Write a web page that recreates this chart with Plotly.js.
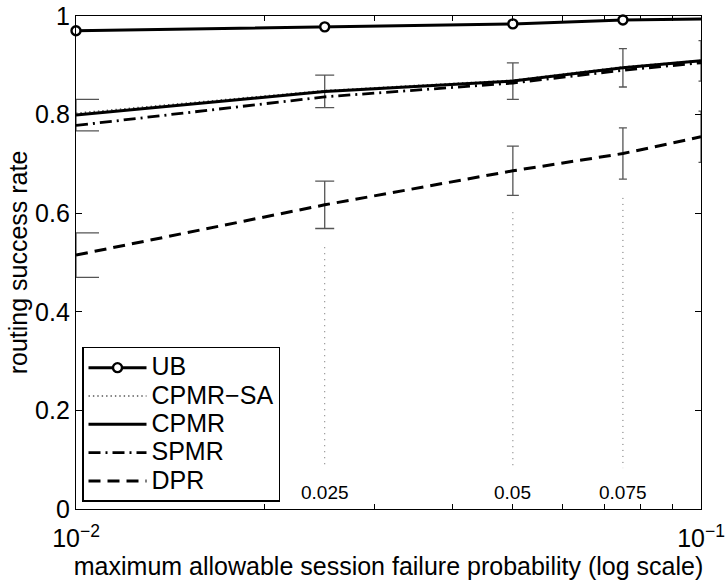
<!DOCTYPE html>
<html>
<head>
<meta charset="utf-8">
<script src="https://cdn.plot.ly/plotly-3.0.1.min.js"></script>
<style>
  html, body { margin: 0; padding: 0; background: #ffffff; }
  #chart { width: 725px; height: 581px; }
</style>
</head>
<body>
<div id="chart"></div>
<script>
// ---- data ----
const xVals   = [0.01, 0.025, 0.05, 0.075, 0.1];
const ub      = [0.970, 0.978, 0.984, 0.992, 0.994];
const cpmrSA  = [0.803, 0.849, 0.870, 0.897, 0.910];
const cpmr    = [0.799, 0.847, 0.868, 0.895, 0.909];
const spmr    = [0.778, 0.836, 0.864, 0.890, 0.905];
const dpr     = [0.515, 0.617, 0.686, 0.721, 0.755];
const cpmrErr = [0.032, 0.033, 0.037, 0.039, 0.041];
const dprErr  = [0.045, 0.048, 0.050, 0.052, 0.052];

const markX      = [0.025, 0.05, 0.075];
const markTop    = [0.531, 0.602, 0.631];
const markBottom = [0.083, 0.083, 0.083];
const markLabels = ['0.025', '0.05', '0.075'];
const markLabelY = 0.033;

const seriesNames = ['UB', 'CPMR\u2212SA', 'CPMR', 'SPMR', 'DPR'];

const xTickVals  = [0.01, 0.1];
const xTickText  = ['10<sup>\u22122</sup>', '10<sup>\u22121</sup>'];
const xMinorVals = [0.02, 0.03, 0.04, 0.05, 0.06, 0.07, 0.08, 0.09];
const yTickVals  = [0, 0.2, 0.4, 0.6, 0.8, 1];
const yTickText  = ['0', '0.2', '0.4', '0.6', '0.8', '1'];

// ---- styles ----
const FONT = 'Liberation Sans, Arial, Helvetica, sans-serif';
const capPx = [23, 9.5, 6, 4, 2.5];
const errColor = '#555555';
const legendName = s => '<span style="font-size:25px">' + s + '</span>';

const traces = [];

// error bars (one trace per point so cap widths can differ like the original)
function addErr(vals, errs) {
  for (let i = 0; i < xVals.length; i++) {
    traces.push({
      x: [xVals[i]], y: [vals[i]], type: 'scatter', mode: 'markers',
      marker: {size: 1, opacity: 0},
      error_y: {type: 'data', array: [errs[i]], visible: true,
                color: errColor, thickness: 1.3, width: capPx[i]},
      showlegend: false, hoverinfo: 'skip'
    });
  }
}
addErr(cpmr, cpmrErr);
addErr(dpr, dprErr);

// vertical dotted markers
for (let i = 0; i < markX.length; i++) {
  traces.push({
    x: [markX[i], markX[i]], y: [markTop[i], markBottom[i]],
    type: 'scatter', mode: 'lines',
    line: {color: '#666666', width: 1, dash: '1px,5px'},
    showlegend: false, hoverinfo: 'skip'
  });
}

// main series
traces.push({
  x: xVals, y: ub, name: legendName(seriesNames[0]), type: 'scatter', mode: 'lines+markers',
  line: {color: '#000', width: 3},
  marker: {symbol: 'circle', size: 9, color: '#fff', line: {color: '#000', width: 2.4}},
  cliponaxis: false
});
traces.push({
  x: xVals, y: cpmrSA, name: legendName(seriesNames[1]), type: 'scatter', mode: 'lines',
  line: {color: '#555', width: 1.4, dash: '1.4px,3px'}
});
traces.push({
  x: xVals, y: cpmr, name: legendName(seriesNames[2]), type: 'scatter', mode: 'lines',
  line: {color: '#000', width: 3}
});
traces.push({
  x: xVals, y: spmr, name: legendName(seriesNames[3]), type: 'scatter', mode: 'lines',
  line: {color: '#000', width: 2.8, dash: '12px,5px,2px,5px'}
});
traces.push({
  x: xVals, y: dpr, name: legendName(seriesNames[4]), type: 'scatter', mode: 'lines',
  line: {color: '#000', width: 3, dash: '12px,7px'}
});

const annotations = markLabels.map((t, i) => ({
  x: Math.log10(markX[i]), y: markLabelY, xref: 'x', yref: 'y',
  text: t, showarrow: false, font: {family: FONT, size: 19, color: '#000'},
  xanchor: 'center', yanchor: 'middle'
}));

const layout = {
  width: 725, height: 581,
  margin: {l: 76, r: 24, t: 16, b: 72},
  paper_bgcolor: '#fff', plot_bgcolor: '#fff',
  font: {family: FONT, size: 25, color: '#000'},
  showlegend: true,
  legend: {
    x: 0.0096, y: 0.0142, xanchor: 'left', yanchor: 'bottom',
    bgcolor: '#fff', bordercolor: '#000', borderwidth: 1.5,
    font: {family: FONT, size: 19.5, color: '#000'},
    tracegroupgap: 0, itemwidth: 58
  },
  xaxis: {
    type: 'log', range: [-2, -1],
    tickmode: 'array', tickvals: xTickVals, ticktext: xTickText,
    ticks: 'inside', ticklen: 6, tickwidth: 1, tickcolor: '#000',
    ticklabelstandoff: 7,
    minor: {tickmode: 'array', tickvals: xMinorVals, ticks: 'inside', ticklen: 5,
            tickwidth: 1, tickcolor: '#000', showgrid: false},
    showline: true, linecolor: '#000', linewidth: 1.2, mirror: 'ticks',
    showgrid: false, zeroline: false,
    tickfont: {family: FONT, size: 25, color: '#000'},
    title: {text: 'maximum allowable session failure probability (log scale)',
            font: {family: FONT, size: 25, color: '#000'}, standoff: 2}
  },
  yaxis: {
    range: [0, 1],
    tickmode: 'array', tickvals: yTickVals, ticktext: yTickText,
    ticks: 'inside', ticklen: 6, tickwidth: 1, tickcolor: '#000',
    showline: true, linecolor: '#000', linewidth: 1.2, mirror: 'ticks',
    showgrid: false, zeroline: false,
    tickfont: {family: FONT, size: 25, color: '#000'},
    title: {text: 'routing success rate',
            font: {family: FONT, size: 25, color: '#000'}, standoff: 0}
  },
  annotations: annotations
};

Plotly.newPlot('chart', traces, layout, {staticPlot: true, displayModeBar: false});
</script>
</body>
</html>
